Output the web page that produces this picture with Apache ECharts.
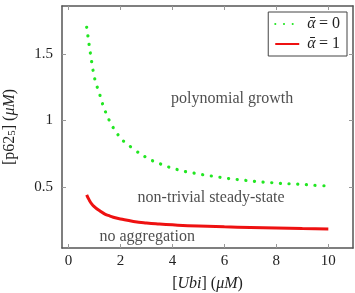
<!DOCTYPE html>
<html>
<head>
<meta charset="utf-8">
<script src="https://cdn.jsdelivr.net/npm/echarts@6/dist/echarts.min.js"></script>
<style>
  html, body { margin: 0; padding: 0; background: #fff; }
  #chart { width: 355px; height: 293px; }
</style>
</head>
<body>
<div id="chart"></div>
<script>
// alpha = 0 curve (dotted green)
const alpha0 = [
  [0.7, 1.70], [0.75, 1.63], [0.8, 1.56], [0.85, 1.495], [0.9, 1.43], [0.96, 1.36],
  [1.04, 1.29], [1.14, 1.23], [1.25, 1.165], [1.35, 1.10], [1.48, 1.04], [1.63, 0.976],
  [1.81, 0.92], [2.0, 0.868], [2.2, 0.83], [2.4, 0.80], [2.6, 0.77], [2.82, 0.742],
  [3.12, 0.707], [3.42, 0.682], [3.73, 0.657], [4.07, 0.637], [4.4, 0.619], [4.74, 0.607],
  [5.08, 0.594], [5.41, 0.584], [5.76, 0.574], [6.1, 0.564], [6.45, 0.556], [6.78, 0.549],
  [7.13, 0.541], [7.48, 0.536], [7.81, 0.531], [8.15, 0.526], [8.5, 0.523], [8.83, 0.52],
  [9.17, 0.516], [9.55, 0.511], [10, 0.507]
]
// alpha = 1 curve (solid red)
const alpha1 = [
  [0.7, 0.44], [0.8, 0.40], [0.9, 0.37], [1.0, 0.35], [1.2, 0.32], [1.4, 0.295],
  [1.6, 0.28], [1.8, 0.267], [2.0, 0.258], [2.5, 0.24], [3.0, 0.228], [3.5, 0.22],
  [4.0, 0.214], [5.0, 0.205], [6.0, 0.199], [7.0, 0.194], [8.0, 0.19], [9.0, 0.186],
  [10, 0.183]
]
const xTicks = [0, 2, 4, 6, 8, 10]
const yTicks = [0.5, 1, 1.5]
const regionLabels = [
  { name: 'polynomial growth', value: [6.3, 1.16] },
  { name: 'non-trivial steady-state', value: [5.49, 0.42] },
  { name: 'no aggregation', value: [3.03, 0.128] },
]

const serif = 'Liberation Serif'
const axisColor = '#555'
const textColor = '#222'
const green = '#22e622'
const red = '#ee1111'

const chart = echarts.init(document.getElementById('chart'), null, { renderer: 'canvas' })

function xAxisCfg(pos, showLabel) {
  return {
    type: 'value',
    position: pos,
    min: -0.25,
    max: 10.95,
    axisLine: { show: true, onZero: false, lineStyle: { color: axisColor, width: 1.5 } },
    axisTick: { show: true, inside: true, length: 4, customValues: xTicks, lineStyle: { color: '#999' } },
    axisLabel: {
      show: showLabel, customValues: xTicks, margin: 6,
      fontFamily: serif, fontSize: 15, color: textColor,
    },
    splitLine: { show: false },
  }
}

function yAxisCfg(pos, showLabel) {
  return {
    type: 'value',
    position: pos,
    min: 0.04,
    max: 1.86,
    axisLine: { show: true, onZero: false, lineStyle: { color: axisColor, width: 1.5 } },
    axisTick: { show: true, inside: true, length: 4, customValues: yTicks, lineStyle: { color: '#999' } },
    axisLabel: {
      show: showLabel, customValues: yTicks, margin: 9,
      fontFamily: serif, fontSize: 15, color: textColor,
      formatter: (v) => String(v),
    },
    splitLine: { show: false },
  }
}

const bottomX = xAxisCfg('bottom', true)
bottomX.name = '{a|[}{i|Ubi}{a|] (}{i|μM}{a|)}'
bottomX.nameLocation = 'middle'
bottomX.nameGap = 28
bottomX.nameTextStyle = {
  rich: {
    a: { fontFamily: serif, fontSize: 16, color: textColor },
    i: { fontFamily: serif, fontSize: 16, fontStyle: 'italic', color: textColor },
  },
}

const leftY = yAxisCfg('left', true)
leftY.name = '{a|[p62}{s|5}{a|] (}{i|μM}{a|)}'
leftY.nameLocation = 'middle'
leftY.nameGap = 44
leftY.nameTextStyle = {
  rich: {
    a: { fontFamily: serif, fontSize: 16, color: textColor },
    s: { fontFamily: serif, fontSize: 11, color: textColor, padding: [6, 0, 0, 0] },
    i: { fontFamily: serif, fontSize: 16, fontStyle: 'italic', color: textColor },
  },
}

const legendRich = {
  a: { fontFamily: serif, fontSize: 16, fontStyle: 'italic', color: textColor, padding: [0, 0, 0, 3] },
  b: { fontFamily: serif, fontSize: 16, color: textColor },
}

chart.setOption({
  animation: false,
  grid: { left: 62, right: 2, top: 6, bottom: 45, containLabel: false, outerBoundsMode: 'none' },
  xAxis: [bottomX, xAxisCfg('top', false)],
  yAxis: [leftY, yAxisCfg('right', false)],
  legend: {
    right: 8,
    top: 12,
    orient: 'vertical',
    itemWidth: 24,
    itemHeight: 12,
    itemGap: 4,
    padding: [4, 7, 4, 6],
    backgroundColor: '#fff',
    borderColor: '#444',
    borderWidth: 1,
    borderRadius: 0,
    formatter: (name) => name === 'a0' ? '{a|ᾱ} {b|= 0}' : '{a|ᾱ} {b|= 1}',
    textStyle: { rich: legendRich },
    data: [
      { name: 'a0', itemStyle: { opacity: 0 } },
      { name: 'a1', itemStyle: { opacity: 0 } },
    ],
  },
  series: [
    {
      name: 'a0',
      type: 'line',
      data: alpha0,
      symbol: 'none',
      smooth: true,
      lineStyle: { color: green, width: 3.2, type: [0.1, 8.6], cap: 'round' },
      itemStyle: { color: green },
    },
    {
      name: 'a1',
      type: 'line',
      data: alpha1,
      symbol: 'none',
      smooth: true,
      lineStyle: { color: red, width: 3 },
      itemStyle: { color: red },
    },
    {
      type: 'scatter',
      data: regionLabels,
      symbolSize: 0,
      silent: true,
      label: {
        show: true, position: 'inside', formatter: (p) => p.name,
        fontFamily: serif, fontSize: 16, color: textColor,
      },
    },
  ],
})
</script>
</body>
</html>
